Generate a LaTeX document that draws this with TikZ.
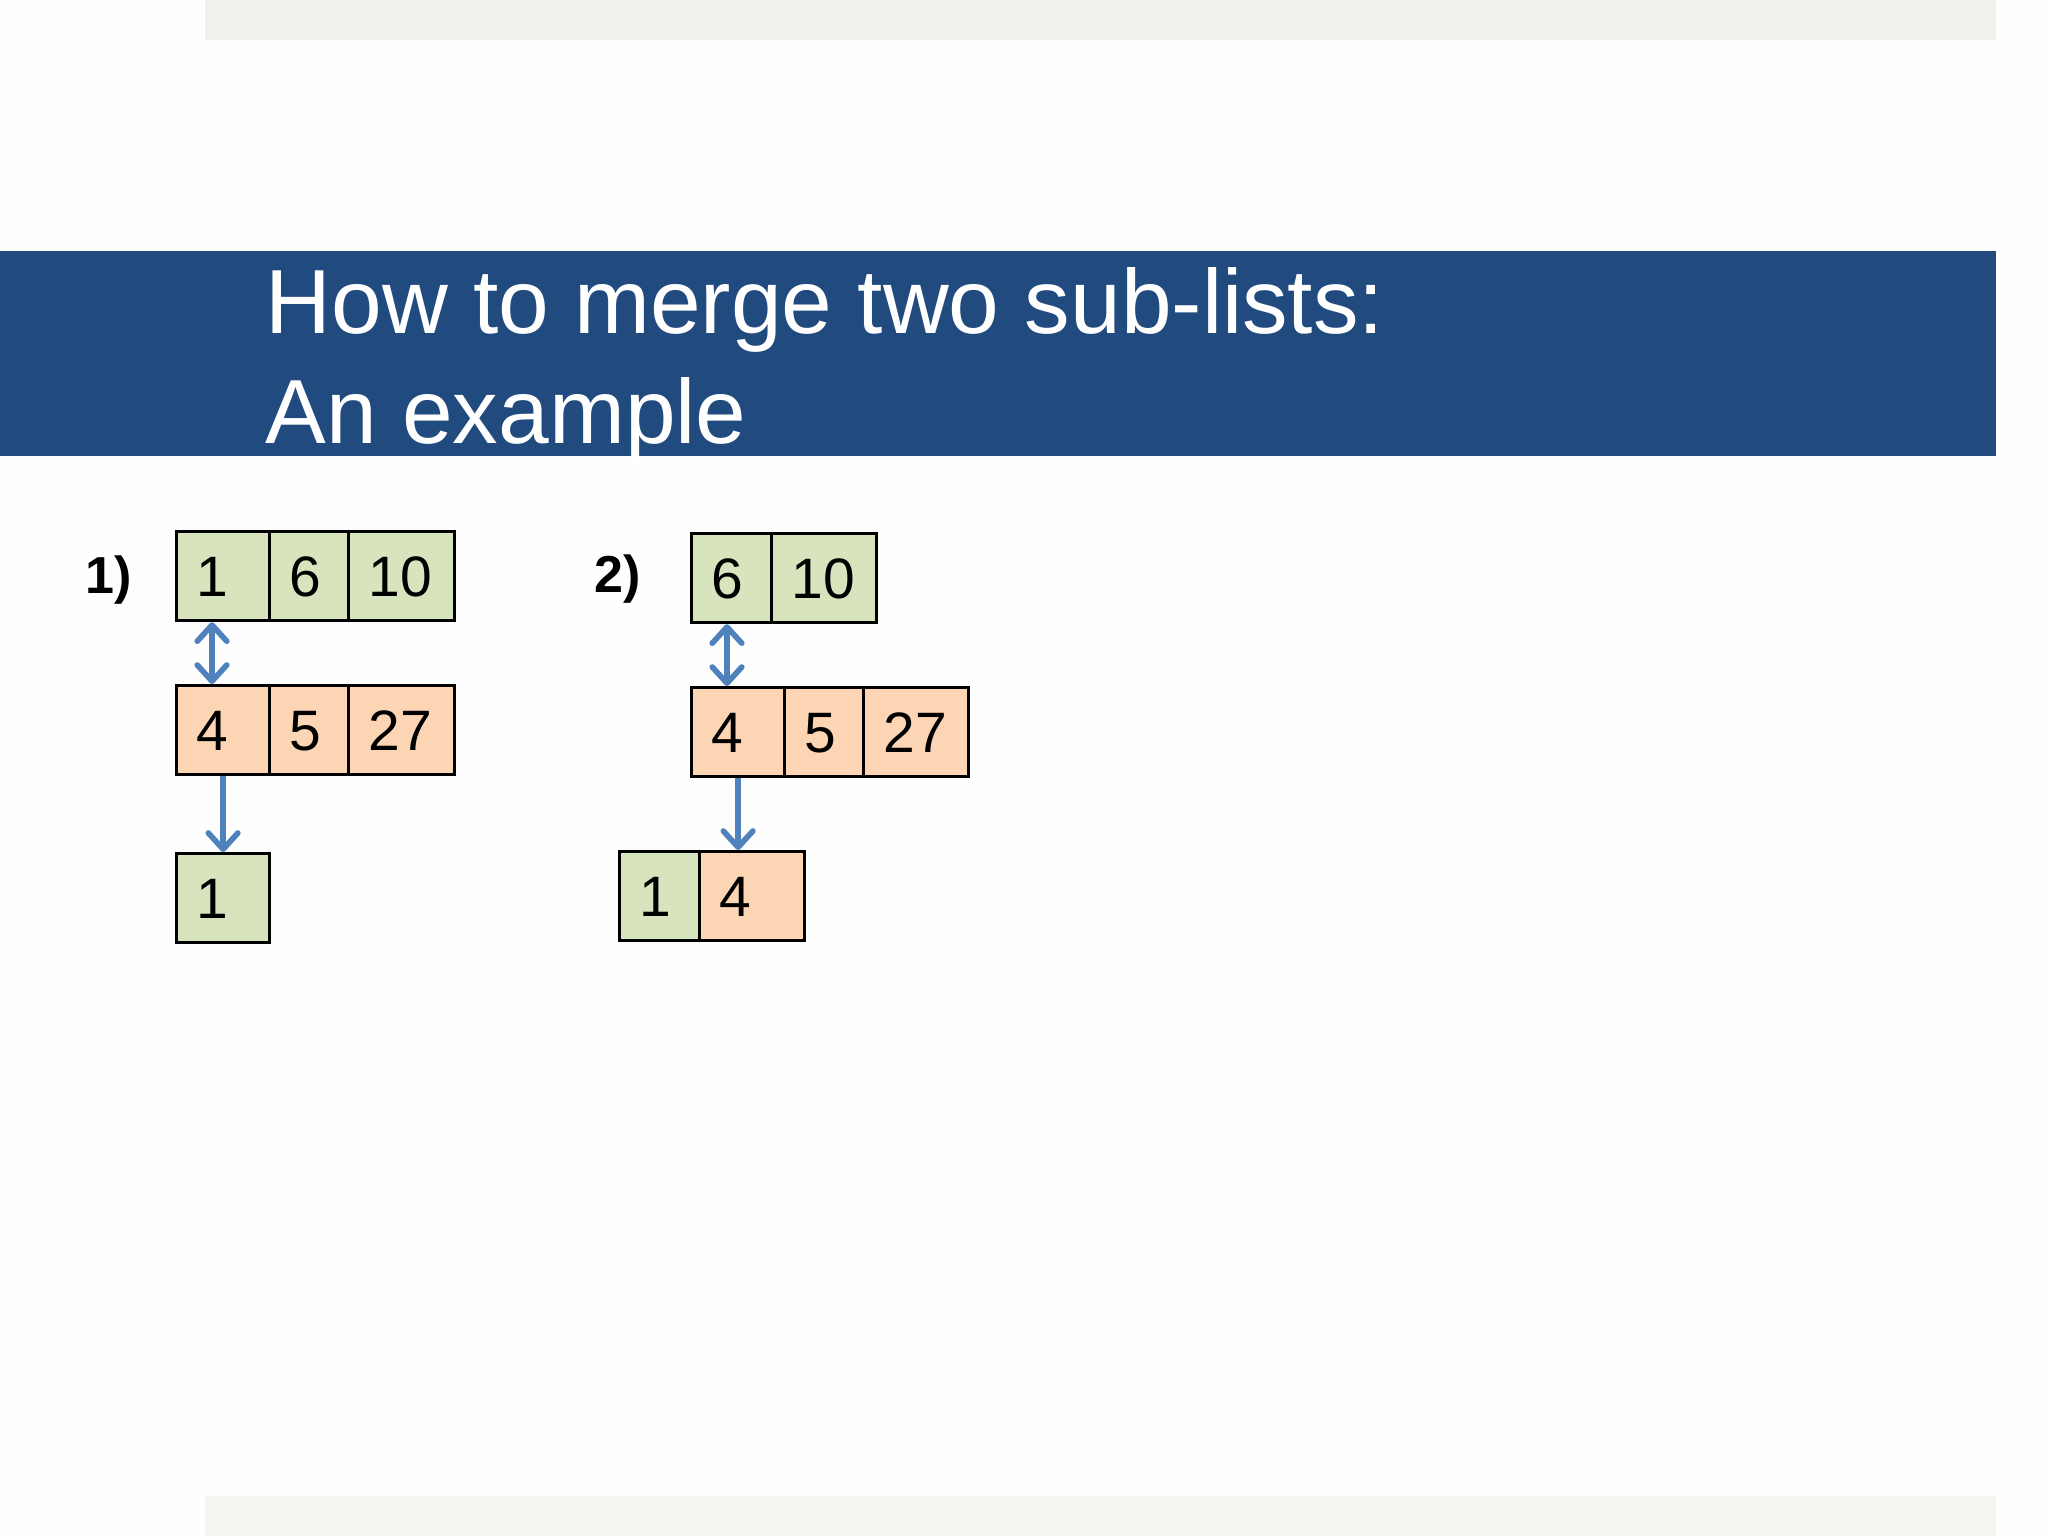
\documentclass[tikz,border=0pt]{standalone}
\usepackage{fontspec}
\setmainfont{Liberation Sans}
\usetikzlibrary{arrows.meta}
\definecolor{band}{HTML}{214A7E}
\definecolor{topbar}{HTML}{F2F2EC}
\definecolor{botbar}{HTML}{F5F4F1}
\definecolor{cgreen}{HTML}{D7E4BD}
\definecolor{corange}{HTML}{FCD5B5}
\definecolor{arrowblue}{HTML}{4F81BD}
\tikzset{
  cell/.style={draw=black, line width=0.9pt, anchor=north west, inner xsep=0.2cm, inner ysep=0pt,
    text width=#1, align=left, minimum height=0.89cm, text height=0.40cm, text depth=0pt,
    font=\fontsize{16.2pt}{19pt}\selectfont},
  gcell/.style={cell=#1, fill=cgreen},
  ocell/.style={cell=#1, fill=corange},
  steplabel/.style={anchor=base west, inner sep=0pt, font=\fontsize{14.8pt}{17pt}\selectfont\bfseries},
  titletext/.style={anchor=base west, inner sep=0pt, text=white, font=\fontsize{25.9pt}{31pt}\selectfont},
  tipend/.style={Straight Barb[length=4.6pt,width=8.4pt,line cap=round,line join=round]},
  link/.style={draw=arrowblue, line width=1.6pt},
  dbl/.style={link, {Straight Barb[length=4.6pt,width=8.4pt,line cap=round,line join=round]}-{Straight Barb[length=4.6pt,width=8.4pt,line cap=round,line join=round]}},
  down/.style={link, -{Straight Barb[length=4.6pt,width=8.4pt,line cap=round,line join=round]}}
}
\begin{document}
\begin{tikzpicture}[x=0.01cm, y=-0.01cm]
\useasboundingbox (0,0) rectangle (2048,1536);
\fill[white!99!gray] (0,0) rectangle (2048,1536);
\fill[topbar] (205,0) rectangle (1996,40);
\fill[botbar] (205,1496) rectangle (1996,1536);
\fill[band] (0,251) rectangle (1996,456);
\node[titletext] (title1) at (265,333) {How to merge two sub-lists:};
\node[titletext] (title2) at (265,443) {An example};

% panel 1
\node[steplabel] (lab1) at (85,593) {1)};
\node[gcell=0.53cm] (a1) at (175,530) {1};
\node[gcell=0.39cm] (a2) at (268,530) {6};
\node[gcell=0.655cm] (a3) at (347,530) {10};
\node[ocell=0.53cm] (b1) at (175,684) {4};
\node[ocell=0.39cm] (b2) at (268,684) {5};
\node[ocell=0.655cm] (b3) at (347,684) {27};
\node[gcell=0.53cm] (c1) at (175,852) {1};
\draw[dbl] ([xshift=0.37cm]a1.south west) -- ([xshift=0.37cm]b1.north west);
\draw[down] (b1.south) -- (c1.north);

% panel 2
\node[steplabel] (lab2) at (594,592) {2)};
\node[gcell=0.40cm] (p1) at (690,532) {6};
\node[gcell=0.65cm] (p2) at (770,532) {10};
\node[ocell=0.53cm] (q1) at (690,686) {4};
\node[ocell=0.39cm] (q2) at (783,686) {5};
\node[ocell=0.65cm] (q3) at (862,686) {27};
\node[gcell=0.40cm] (r1) at (618,850) {1};
\node[ocell=0.65cm] (r2) at (698,850) {4};
\draw[dbl] ([xshift=0.37cm]p1.south west) -- ([xshift=0.37cm]q1.north west);
\draw[down] (q1.south) -- (q1.south |- r2.north);
\end{tikzpicture}
\end{document}
